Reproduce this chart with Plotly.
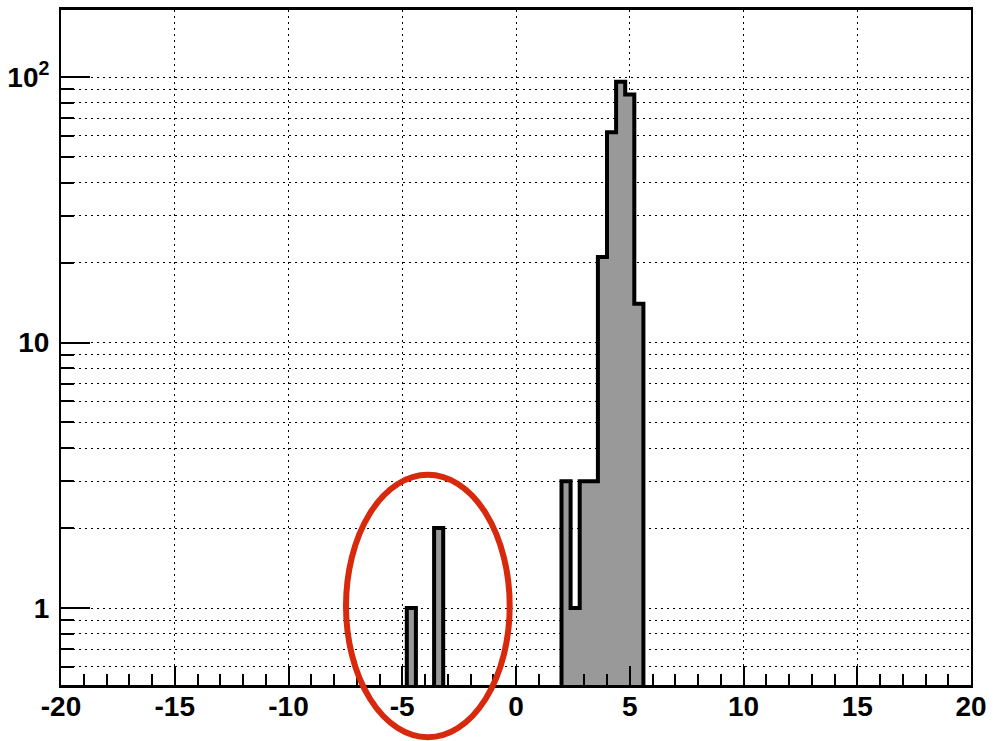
import plotly.graph_objects as go
import numpy as np

# ---- data (histogram, 100 bins of width 0.4 between -20 and 20) ----
x_min, x_max, bin_width = -20.0, 20.0, 0.4
filled_bin_left_edges = [-4.8, -3.6, 2.0, 2.4, 2.8, 3.2, 3.6, 4.0, 4.4, 4.8, 5.2]
filled_bin_counts = [1, 2, 3, 1, 3, 3, 21, 62, 96, 86, 14]

x_tick_vals = [-20, -15, -10, -5, 0, 5, 10, 15, 20]
x_tick_text = ["-20", "-15", "-10", "-5", "0", "5", "10", "15", "20"]
y_tick_vals = [1, 10, 100]
y_tick_text = ["1", "10", "10<sup>2</sup>"]

# ---- build histogram outline ----
n_bins = int(round((x_max - x_min) / bin_width))
edges = x_min + bin_width * np.arange(n_bins + 1)
counts = np.zeros(n_bins)
for le, c in zip(filled_bin_left_edges, filled_bin_counts):
    counts[int(round((le - x_min) / bin_width))] = c

floor = 0.05  # below visible range (log axis)
xs = [edges[0]]
ys = [floor]
for i in range(n_bins):
    v = counts[i] if counts[i] > 0 else floor
    xs += [edges[i], edges[i + 1]]
    ys += [v, v]
xs.append(edges[-1])
ys.append(floor)

fig = go.Figure()
fig.add_trace(go.Scatter(
    x=xs, y=ys, mode="lines", fill="toself",
    fillcolor="#999999",
    line=dict(color="black", width=4, shape="linear"),
    hoverinfo="skip", showlegend=False,
))

W, H = 999, 741
ml, mr, mt, mb = 61, 28, 10, 56
plot_w = W - ml - mr
plot_h = H - mt - mb

y_range = [-0.29, 2.2524]

minor_y = []
for dec in [0.1, 1, 10, 100]:
    for k in range(2, 10):
        v = dec * k
        if 10 ** y_range[0] < v < 10 ** y_range[1]:
            minor_y.append(v)

label_font = dict(family="Liberation Sans, Arial, sans-serif", size=28, color="black", weight="bold")
grid_dash = "2px,4px"

fig.update_xaxes(
    range=[x_min, x_max],
    tickmode="array", tickvals=x_tick_vals, ticktext=x_tick_text,
    ticks="inside", ticklen=19, tickwidth=2, tickcolor="black",
    minor=dict(ticks="inside", ticklen=11, tickwidth=2, tickcolor="black",
               dtick=1, tick0=0, showgrid=False),
    showgrid=True, gridcolor="black", gridwidth=1, griddash=grid_dash,
    showline=True, linecolor="black", linewidth=3, mirror=True,
    zeroline=False, tickfont=label_font, automargin=False,
    ticklabelstandoff=-6,
)
fig.update_yaxes(
    type="log", range=y_range,
    tickmode="array", tickvals=y_tick_vals, ticktext=y_tick_text,
    ticks="inside", ticklen=29, tickwidth=2, tickcolor="black",
    minor=dict(ticks="inside", ticklen=13, tickwidth=2, tickcolor="black",
               tickmode="array", tickvals=minor_y,
               showgrid=True, gridcolor="black", gridwidth=1, griddash=grid_dash),
    showgrid=True, gridcolor="black", gridwidth=1, griddash=grid_dash,
    showline=True, linecolor="black", linewidth=2, mirror=True,
    zeroline=False, tickfont=label_font, automargin=False,
    ticklabelstandoff=4,
)

# red ellipse highlighting the two small bars (pixel geometry -> paper coords)
ex0, ex1, ey_top, ey_bot = 346, 509.7, 474.8, 737.2
fig.add_shape(
    type="circle", xref="paper", yref="paper",
    x0=(ex0 - ml) / plot_w, x1=(ex1 - ml) / plot_w,
    y0=(H - mb - ey_bot) / plot_h, y1=(H - mb - ey_top) / plot_h,
    line=dict(color="#d8290c", width=6), fillcolor="rgba(0,0,0,0)",
    layer="above",
)

fig.update_layout(
    width=W, height=H,
    margin=dict(l=ml, r=mr, t=mt, b=mb, pad=0),
    paper_bgcolor="white", plot_bgcolor="white",
    showlegend=False,
)

fig.write_html(
    "out.html",
    config={"displayModeBar": False},
    post_script="document.body.style.margin='0';document.body.style.padding='0';",
)
